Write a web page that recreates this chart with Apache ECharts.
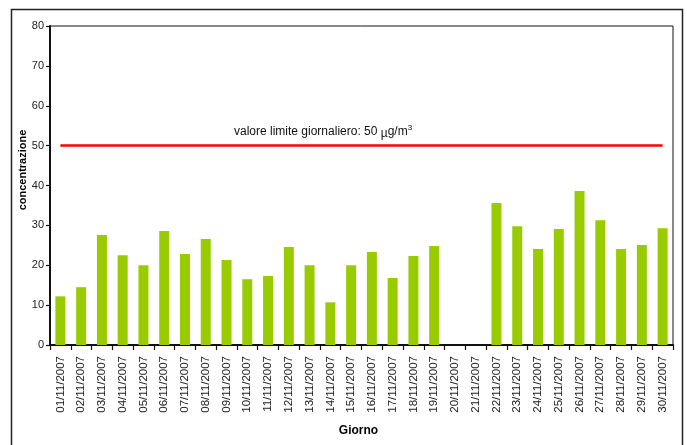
<!DOCTYPE html>
<html lang="it">
<head>
<meta charset="UTF-8">
<title>concentrazione</title>
<script src="https://cdn.jsdelivr.net/npm/echarts@6/dist/echarts.min.js"></script>
<style>
  html, body { margin: 0; padding: 0; background: #fff; }
  #main { width: 687px; height: 445px; }
</style>
</head>
<body>
<div id="main"></div>
<script>
// dati
const days = [
  '01/11/2007', '02/11/2007', '03/11/2007', '04/11/2007', '05/11/2007',
  '06/11/2007', '07/11/2007', '08/11/2007', '09/11/2007', '10/11/2007',
  '11/11/2007', '12/11/2007', '13/11/2007', '14/11/2007', '15/11/2007',
  '16/11/2007', '17/11/2007', '18/11/2007', '19/11/2007', '20/11/2007',
  '21/11/2007', '22/11/2007', '23/11/2007', '24/11/2007', '25/11/2007',
  '26/11/2007', '27/11/2007', '28/11/2007', '29/11/2007', '30/11/2007'
];
const concentrazione = [
  12.2, 14.5, 27.6, 22.5, 20.0, 28.6, 22.8, 26.6, 21.3, 16.5,
  17.3, 24.6, 20.0, 10.7, 20.0, 23.3, 16.8, 22.3, 24.8, null,
  null, 35.6, 29.8, 24.1, 29.1, 38.6, 31.3, 24.1, 25.1, 29.3
];
const limite = 50;
const yTicks = [0, 10, 20, 30, 40, 50, 60, 70, 80];

let chart = echarts.init(document.getElementById('main'), null, { renderer: 'canvas' });

const font = 'Liberation Sans, Arial, sans-serif';

let option = {
  backgroundColor: '#fff',
  animation: false,
  textStyle: { fontFamily: font },
  grid: {
    left: 50, right: 14, top: 26, bottom: 100,
    show: true, borderColor: '#111', borderWidth: 1
  },
  xAxis: {
    type: 'category',
    data: days,
    name: 'Giorno',
    nameLocation: 'middle',
    nameGap: 80,
    nameTextStyle: { fontSize: 12, fontWeight: 'bold', color: '#000', fontFamily: font, padding: [0, 6, 0, 0] },
    axisLine: { lineStyle: { color: '#111', width: 2 } },
    axisTick: { show: true, length: 5, lineStyle: { color: '#111', width: 1.2 } },
    axisLabel: { rotate: 90, interval: 0, fontSize: 11.5, color: '#222', margin: 11, fontFamily: font },
    splitLine: { show: false }
  },
  yAxis: {
    type: 'value',
    min: yTicks[0],
    max: yTicks[yTicks.length - 1],
    interval: 10,
    axisLine: { show: true, lineStyle: { color: '#111', width: 2 } },
    axisTick: { show: true, length: 4, lineStyle: { color: '#111', width: 1.2 } },
    axisLabel: { fontSize: 11, color: '#222', margin: 6, fontFamily: font },
    splitLine: { show: false }
  },
  series: [
    {
      type: 'bar',
      data: concentrazione,
      barWidth: 10,
      itemStyle: { color: '#99cc00' },
      markLine: {
        silent: true,
        symbol: 'none',
        label: { show: false },
        lineStyle: { color: '#ff0000', width: 2.5, type: 'solid' },
        data: [[
          { coord: [days[0], limite] },
          { coord: [days[days.length - 1], limite] }
        ]]
      }
    }
  ],
  graphic: [
    {
      type: 'rect',
      silent: true,
      shape: { x: 11.5, y: 9.5, width: 671, height: 450 },
      style: { fill: null, stroke: '#222', lineWidth: 1.5 }
    },
    {
      type: 'text',
      silent: true,
      x: 23, y: 170,
      rotation: Math.PI / 2,
      style: {
        text: 'concentrazione',
        font: 'bold 11px ' + font,
        fill: '#000',
        align: 'center',
        verticalAlign: 'middle'
      }
    },
    {
      type: 'text',
      silent: true,
      x: 234, y: 124,
      style: {
        text: 'valore limite giornaliero: ' + limite + ' {mu|µ}g/m{sup|3}',
        font: '12px ' + font,
        fill: '#111',
        rich: {
          mu: { fontSize: 12, fontFamily: font, padding: [4, 0, 0, 0], fill: '#111' },
          sup: { fontSize: 8, fontFamily: font, padding: [0, 0, 8, 0], fill: '#111' }
        }
      }
    }
  ]
};

chart.setOption(option);
</script>
</body>
</html>
